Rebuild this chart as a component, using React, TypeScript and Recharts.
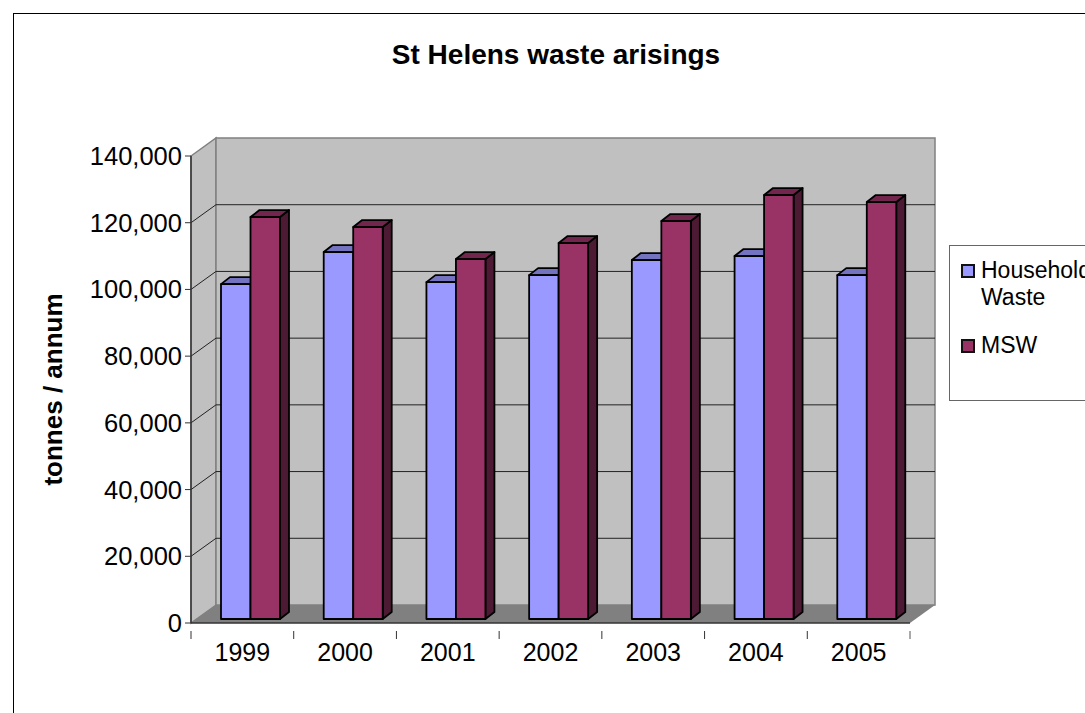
import { BarChart, Bar, XAxis, YAxis, CartesianGrid, Legend, Label } from 'recharts';

const years = ['1999', '2000', '2001', '2002', '2003', '2004', '2005'];
const householdWaste = [100400, 110000, 101000, 103100, 107600, 108800, 103100];
const msw = [120500, 117500, 107900, 112700, 119300, 127100, 125000];
const yTicks = [0, 20000, 40000, 60000, 80000, 100000, 120000, 140000];

const data = years.map((year, i) => ({ year, household: householdWaste[i], msw: msw[i] }));

const FONT = '"Liberation Sans", Arial, sans-serif';
const WIDTH = 1085;
const HEIGHT = 713;
const X_AXIS_HEIGHT = 90;
const margin = { top: 156, right: 175, bottom: 0, left: 0 };
const plotTop = margin.top;
const plotBottom = HEIGHT - X_AXIS_HEIGHT;

// depth of the fake 3D box and of each bar
const WALL_DX = 25;
const WALL_DY = 18;
const BAR_DX = 9;
const BAR_DY = 7;
const BAR_SHIFT_X = 8;
const BAR_SHIFT_Y = 4;
const BAND = (WIDTH - margin.right - margin.left - 191) / years.length;

const WallsAndGrid = (props: any) => {
    const { x1, x2, y1, index } = props;
    const isEdge = Math.abs(y1 - plotTop) < 1 || Math.abs(y1 - plotBottom) < 1;
    return (
        <g>
            {index === 0 && (
                <g>
                    <polygon
                        points={`${x1},${plotTop} ${x1 + WALL_DX},${plotTop - WALL_DY} ${x1 + WALL_DX},${plotBottom - WALL_DY} ${x1},${plotBottom}`}
                        fill="#c0c0c0" stroke="#808080" strokeWidth={1.5}
                    />
                    <rect
                        x={x1 + WALL_DX} y={plotTop - WALL_DY}
                        width={x2 - x1} height={plotBottom - plotTop}
                        fill="#c0c0c0" stroke="#808080" strokeWidth={1.5}
                    />
                    <polygon
                        points={`${x1},${plotBottom} ${x2},${plotBottom} ${x2 + WALL_DX},${plotBottom - WALL_DY} ${x1 + WALL_DX},${plotBottom - WALL_DY}`}
                        fill="#808080"
                    />
                </g>
            )}
            {!isEdge && (
                <path
                    d={`M${x1},${y1} L${x1 + WALL_DX},${y1 - WALL_DY} L${x2 + WALL_DX},${y1 - WALL_DY}`}
                    fill="none" stroke="#222" strokeWidth={1}
                />
            )}
        </g>
    );
};

const makeBox = (front: string, top: string, side: string) => (props: any) => {
    const { x, y, width, height } = props;
    const l = x + BAR_SHIFT_X;
    const r = l + width;
    const t = y - BAR_SHIFT_Y;
    const b = t + height;
    return (
        <g stroke="#000" strokeWidth={1.8} strokeLinejoin="round">
            <polygon points={`${r},${t} ${r + BAR_DX},${t - BAR_DY} ${r + BAR_DX},${b - BAR_DY} ${r},${b}`} fill={side} />
            <polygon points={`${l},${t} ${l + BAR_DX},${t - BAR_DY} ${r + BAR_DX},${t - BAR_DY} ${r},${t}`} fill={top} />
            <rect x={l} y={t} width={width} height={height} fill={front} />
        </g>
    );
};

const YearTick = (props: any) => {
    const { x, y, payload, index } = props;
    return (
        <g>
            <line x1={x - BAND / 2} y1={y} x2={x - BAND / 2} y2={y + 8} stroke="#333" />
            {index === years.length - 1 && (
                <line x1={x + BAND / 2} y1={y} x2={x + BAND / 2} y2={y + 8} stroke="#555" />
            )}
            <text x={x} y={y + 30} textAnchor="middle" fontSize={25} fontFamily={FONT} fill="#000">
                {payload.value}
            </text>
        </g>
    );
};

const LegendBox = ({ payload }: any) => (
    <div style={{
        boxSizing: 'border-box', width: 200, height: 156, border: '1px solid #666', background: '#fff',
        fontFamily: FONT, fontSize: 23, lineHeight: '27px', color: '#000', position: 'relative',
    }}>
        {(payload || []).map((item: any, i: number) => (
            <div key={item.value} style={{ position: 'absolute', left: 11, top: i === 0 ? 11 : 86, display: 'flex' }}>
                <span style={{
                    boxSizing: 'border-box', width: 14, height: 14, marginTop: 7, marginRight: 6,
                    background: item.color, border: '2px solid #111',
                }} />
                <span style={{ width: 118 }}>{item.value}</span>
            </div>
        ))}
    </div>
);

export default function App() {
    return (
        <div style={{ position: 'fixed', left: 0, top: 0, width: WIDTH, height: HEIGHT, overflow: 'hidden', background: '#fff' }}>
            <div style={{
                position: 'absolute', left: 13, top: 13, width: WIDTH, height: HEIGHT,
                borderLeft: '1px solid #000', borderTop: '1px solid #000',
            }} />
            <div style={{
                position: 'absolute', left: 356, width: 400, top: 39, textAlign: 'center',
                fontFamily: FONT, fontWeight: 'bold', fontSize: 28, color: '#000',
            }}>
                St Helens waste arisings
            </div>
            <BarChart
                width={WIDTH} height={HEIGHT} data={data} margin={margin}
                barSize={29.5} barGap={0}
                style={{ position: 'absolute', left: 0, top: 0 }}
            >
                <CartesianGrid vertical={false} horizontal={(p: any) => <WallsAndGrid key={p.key} {...p} />} />
                <XAxis
                    dataKey="year" interval={0} tickLine={false} height={X_AXIS_HEIGHT}
                    tick={<YearTick />} stroke="#333" axisLine={{ stroke: '#333', strokeWidth: 1.5 }}
                />
                <YAxis
                    width={191} domain={[0, 140000]} ticks={yTicks} interval={0}
                    tickFormatter={(v: number) => v.toLocaleString('en-US')}
                    tick={{ fontSize: 25.5, fontFamily: FONT, fill: '#000' }}
                    tickSize={6} tickMargin={3} stroke="#333"
                    axisLine={{ stroke: '#333', strokeWidth: 1.5 }}
                >
                    <Label
                        value="tonnes / annum" angle={-90} position="insideLeft" offset={53}
                        style={{ fontSize: 26, fontWeight: 'bold', fontFamily: FONT, fill: '#000', textAnchor: 'middle' }}
                    />
                </YAxis>
                <Legend
                    layout="vertical" align="center" verticalAlign="middle"
                    content={<LegendBox />}
                    wrapperStyle={{ left: 949, top: 245, width: 200, height: 156 }}
                />
                <Bar dataKey="household" name="Household Waste" fill="#9999ff" isAnimationActive={false}
                    shape={makeBox('#9999ff', '#7373bf', '#4d4d80')} />
                <Bar dataKey="msw" name="MSW" fill="#993366" isAnimationActive={false}
                    shape={makeBox('#993366', '#73264d', '#4d1a33')} />
            </BarChart>
        </div>
    );
}
